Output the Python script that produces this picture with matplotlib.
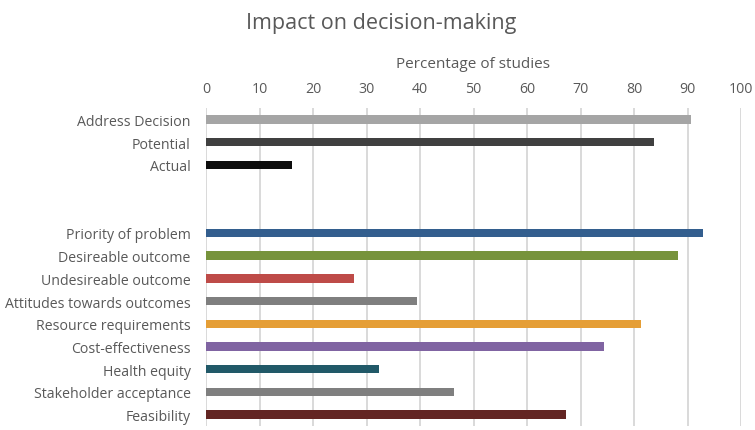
import matplotlib
matplotlib.use("Agg")
import matplotlib.pyplot as plt
import numpy as np

plt.rcParams['font.family'] = ['Open Sans', 'DejaVu Sans']

categories = ["Address Decision", "Potential", "Actual", "", "",
              "Priority of problem", "Desireable outcome", "Undesireable outcome",
              "Attitudes towards outcomes", "Resource requirements",
              "Cost-effectiveness", "Health equity", "Stakeholder acceptance",
              "Feasibility"]
values = [90.6, 83.7, 16.1, np.nan, np.nan,
          92.9, 88.3, 27.7, 39.4, 81.4, 74.3, 32.4, 46.4, 67.3]
colors = ["#A5A5A5", "#404040", "#0D0D0D", "#FFFFFF", "#FFFFFF",
          "#335E8E", "#77933C", "#BE4B48", "#7F7F7F", "#E59E36",
          "#8064A2", "#215968", "#7F7F7F", "#632523"]
xticks = [0, 10, 20, 30, 40, 50, 60, 70, 80, 90, 100]

fig = plt.figure(figsize=(7.55, 4.31), dpi=100)
ax = fig.add_axes([206/755, 1-427/431, (741-206)/755, (427-109)/431])

y = np.arange(len(categories))
vals = np.nan_to_num(np.array(values, dtype=float))
ax.barh(y, vals, height=0.37, color=colors, zorder=3)

ax.set_ylim(len(categories) - 0.5, -0.5)
ax.set_xlim(0, 100)
ax.set_xticks(xticks)
ax.set_yticks(y)
ax.set_yticklabels(categories)
ax.xaxis.tick_top()
ax.xaxis.set_label_position('top')
ax.set_xlabel("Percentage of studies", fontsize=11, color="#595959", labelpad=10)
ax.tick_params(axis='both', length=0, labelsize=10.2, labelcolor="#595959")
ax.tick_params(axis='y', pad=11)
ax.tick_params(axis='x', pad=8.5)
ax.grid(axis='x', color="#D9D9D9", linewidth=1.4, zorder=0)
for s in ax.spines.values():
    s.set_visible(False)

fig.suptitle("Impact on decision-making", fontsize=15.5, color="#595959", y=0.97, x=0.505)

fig.savefig("out.png", dpi=100)
